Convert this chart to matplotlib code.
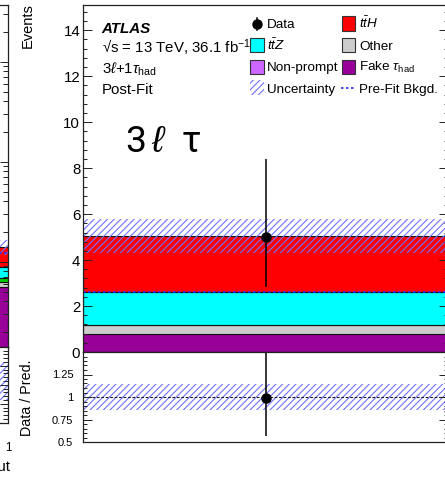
import matplotlib
matplotlib.use('Agg')
import matplotlib.pyplot as plt
from matplotlib.patches import Rectangle
from matplotlib.lines import Line2D
from matplotlib.ticker import MultipleLocator, LogLocator, NullFormatter, FixedLocator

plt.rcParams['font.family'] = ['Liberation Sans', 'DejaVu Sans']
plt.rcParams['mathtext.fontset'] = 'custom'
plt.rcParams['mathtext.rm'] = 'Liberation Sans'
plt.rcParams['mathtext.it'] = 'Liberation Sans:italic'
plt.rcParams['mathtext.bf'] = 'Liberation Sans:bold'
plt.rcParams['mathtext.fallback'] = 'stixsans'
plt.rcParams['hatch.linewidth'] = 0.8

# ---------------- data (main panel: 3l + 1tau_had, single bin) ----------------
bin_edges = [0.0, 1.0]
stack_names = ['Fake $\\tau_{\\mathrm{had}}$', 'Non-prompt', 'Other', '$t\\bar{t}Z$', '$t\\bar{t}H$']
stack_values = [0.78, 0.0, 0.41, 1.42, 2.43]
stack_colors = ['#990099', '#cc66ff', '#cccccc', '#00ffff', '#ff0000']
data_values = [5.0]
data_err_low = [2.16]
data_err_high = [3.38]
total_unc = [0.73]
prefit_bkg = [2.60]

# ---------------- data (partially visible neighbouring panel, last bin) -------
left_bin = [0.8, 1.0]
left_stack_values = [0.562, 0.069, 0.056, 0.204, 0.522]
left_stack_colors = ['#990099', '#cccccc', '#00cc00', '#00ffff', '#ff0000']
left_unc = [0.235]
left_prefit = [1.23]
left_ratio_band = [0.80, 1.30]

W, H = 445, 483
UNC_COLOR = '#7070ff'


def fx(x):
    return x / W


def fy(y):
    return 1 - y / H


fig = plt.figure(figsize=(W / 100, H / 100), dpi=100)

# main axes
axm = fig.add_axes([fx(83), fy(352), (448 - 83) / W, (352 - 5) / H])
axr = fig.add_axes([fx(83), fy(442), (448 - 83) / W, (442 - 352) / H])
# neighbouring panel (cut off at the left)
axlu = fig.add_axes([fx(-200), fy(346.7), 208 / W, (346.7 - 5) / H])
axlr = fig.add_axes([fx(-200), fy(422.7), 208 / W, (422.7 - 346.7) / H])

for ax in (axm, axr, axlu, axlr):
    for s in ax.spines.values():
        s.set_linewidth(0.9)
        s.set_color('#222222')

# ---- main upper panel ----
width = bin_edges[1] - bin_edges[0]
bottom = 0.0
for v, c in zip(stack_values, stack_colors):
    if v > 0:
        axm.bar(bin_edges[0], v, width=width, bottom=bottom, align='edge',
                color=c, edgecolor='#111111', linewidth=0.8)
    bottom += v
total = bottom
axm.bar(bin_edges[0], 2 * total_unc[0], width=width, bottom=total - total_unc[0],
        align='edge', fill=False, hatch='/////', edgecolor=UNC_COLOR, linewidth=0)
axm.hlines(prefit_bkg[0], bin_edges[0], bin_edges[1], colors='#2a2aff',
           linestyles=(0, (1.5, 1.5)), linewidth=1.2)
xc = 0.5 * (bin_edges[0] + bin_edges[1])
axm.errorbar([xc], data_values, yerr=[data_err_low, data_err_high], fmt='o',
             color='black', ms=6.5, elinewidth=1.1, capsize=0)
axm.set_xlim(bin_edges[0], bin_edges[1])
axm.set_ylim(0, 15.1)
axm.yaxis.set_major_locator(MultipleLocator(2))
axm.yaxis.set_minor_locator(MultipleLocator(0.4))
axm.tick_params(axis='y', which='both', direction='in', left=True, right=True,
                labelsize=10.8, pad=2, width=0.7, color='#222222')
axm.tick_params(axis='y', which='major', length=6.3)
axm.tick_params(axis='y', which='minor', length=3.2)
axm.tick_params(axis='x', which='both', bottom=False, top=False, labelbottom=False)

# ---- main ratio panel ----
ratio = data_values[0] / total
r_lo = data_err_low[0] / total
r_hi = data_err_high[0] / total
ru = total_unc[0] / total
axr.bar(bin_edges[0], 2 * ru, width=width, bottom=1 - ru, align='edge', fill=False,
        hatch='/////', edgecolor=UNC_COLOR, linewidth=0)
axr.axhline(1.0, color='#222222', linestyle=(0, (2.5, 1.5)), linewidth=0.8)
axr.errorbar([xc], [ratio], yerr=[[r_lo], [r_hi]], fmt='o', color='black', ms=6.5,
             elinewidth=1.1, capsize=0)
axr.set_xlim(bin_edges[0], bin_edges[1])
axr.set_ylim(0.5, 1.5)
axr.yaxis.set_major_locator(FixedLocator([0.5, 0.75, 1.0, 1.25]))
axr.set_yticklabels(['0.5', '0.75', '1', '1.25'])
axr.yaxis.set_minor_locator(MultipleLocator(0.05))
axr.tick_params(axis='y', which='both', direction='in', left=True, right=True,
                labelsize=8, pad=7, width=0.7, color='#222222')
axr.tick_params(axis='y', which='major', length=6.3)
axr.tick_params(axis='y', which='minor', length=3.2)
axr.tick_params(axis='x', which='both', bottom=False, top=False, labelbottom=False)

# ---- neighbouring panel (log) ----
lw_ = left_bin[1] - left_bin[0]
lb = 0.0
for v, c in zip(left_stack_values, left_stack_colors):
    axlu.bar(left_bin[0], v, width=lw_, bottom=lb if lb > 0 else 1e-3, align='edge',
             color=c, edgecolor='#111111', linewidth=0.8)
    lb += v
axlu.bar(left_bin[0], 2 * left_unc[0], width=lw_, bottom=lb - left_unc[0], align='edge',
         fill=False, hatch='/////', edgecolor=UNC_COLOR, linewidth=0)
axlu.hlines(left_prefit[0], left_bin[0], left_bin[1], colors='#2a2aff',
            linestyles=(0, (1.5, 1.5)), linewidth=1.2)
axlu.set_yscale('log')
axlu.set_ylim(0.141, 369)
axlu.set_xlim(0, 1)
axlu.yaxis.set_major_locator(LogLocator(base=10))
axlu.yaxis.set_minor_locator(LogLocator(base=10, subs=range(2, 10)))
axlu.yaxis.set_minor_formatter(NullFormatter())
axlu.tick_params(axis='y', which='both', direction='in', left=False, right=True,
                 labelleft=False, labelright=False, width=0.7, color='#222222')
axlu.tick_params(axis='y', which='major', length=6)
axlu.tick_params(axis='y', which='minor', length=3.6)
axlu.tick_params(axis='x', which='both', bottom=False, top=False, labelbottom=False)

axlr.bar(left_bin[0], left_ratio_band[1] - left_ratio_band[0], width=lw_,
         bottom=left_ratio_band[0], align='edge', fill=False, hatch='/////',
         edgecolor=UNC_COLOR, linewidth=0)
axlr.set_xlim(0, 1)
axlr.set_ylim(0.5, 1.5)
axlr.yaxis.set_major_locator(MultipleLocator(0.25))
axlr.yaxis.set_minor_locator(MultipleLocator(0.05))
axlr.tick_params(axis='y', which='both', direction='in', left=False, right=True,
                 labelleft=False, labelright=False, width=0.7, color='#222222')
axlr.tick_params(axis='y', which='major', length=6)
axlr.tick_params(axis='y', which='minor', length=3.6)
axlr.set_xticks([1.0])
axlr.set_xticklabels(['1'])
axlr.tick_params(axis='x', which='both', length=0, pad=13.7, labelsize=8.4)
fig.text(fx(10.5), fy(471.5), 'BDT output', ha='right', va='baseline', fontsize=10.8)

# ---- axis titles ----
fig.text(fx(27.5), fy(3.5), 'Events', rotation=90, ha='center', va='top', fontsize=10.5)
fig.text(fx(27.5), fy(398), 'Data / Pred.', rotation=90, ha='center', va='center',
         fontsize=10.3)

# ---- labels ----
fig.text(fx(101.7), fy(33.3), 'ATLAS', fontsize=10.9, fontweight='bold',
         fontstyle='italic', va='baseline')
fig.text(fx(101.7), fy(53.3), '√s = 13 TeV, 36.1 fb$^{\\mathregular{-1}}$',
         fontsize=10.8, va='baseline')
fig.text(fx(101.7), fy(74), '3$\\ell$+1$\\tau_{\\mathrm{had}}$', fontsize=10.8,
         va='baseline')
fig.text(fx(101.7), fy(94), 'Post-Fit', fontsize=10.8, va='baseline')
fig.text(fx(125), fy(151.7), '3$\\,\\ell\\;$ τ', fontsize=26.8, va='baseline',
         family=['Roboto', 'DejaVu Sans'])

# ---- legend (manual, two columns) ----
row_c = [23.5, 45.3, 66.7, 87.5]
row_b = [28.3, 49.7, 71.0, 92.5]
c1_box, c1_txt = 250.0, 266.7
c2_box, c2_txt = 341.7, 359.0
bw, bh = 13.7, 14.0
LFS = 9.7


def box(x, yc, color, hatch=None):
    if hatch:
        r = Rectangle((fx(x), fy(yc + bh / 2)), bw / W, bh / H, transform=fig.transFigure,
                      fill=False, hatch=hatch, edgecolor=UNC_COLOR, linewidth=0)
    else:
        r = Rectangle((fx(x), fy(yc + bh / 2)), bw / W, bh / H, transform=fig.transFigure,
                      facecolor=color, edgecolor='#333333', linewidth=0.8)
    fig.add_artist(r)


# Data
fig.add_artist(Line2D([fx(256.8), fx(256.8)], [fy(17.5), fy(30)], color='black',
                      linewidth=1.1, transform=fig.transFigure))
fig.add_artist(Line2D([fx(256.8)], [fy(23.5)], marker='o', ms=6.5, color='black',
                      transform=fig.transFigure))
fig.text(fx(c1_txt), fy(row_b[0]), 'Data', fontsize=LFS, va='baseline')
box(c2_box, row_c[0], stack_colors[4])
fig.text(fx(c2_txt), fy(row_b[0]), stack_names[4], fontsize=LFS, va='baseline')
box(c1_box, row_c[1], stack_colors[3])
fig.text(fx(c1_txt), fy(row_b[1]), stack_names[3], fontsize=LFS, va='baseline')
box(c2_box, row_c[1], stack_colors[2])
fig.text(fx(c2_txt), fy(row_b[1]), stack_names[2], fontsize=LFS, va='baseline')
box(c1_box, row_c[2], stack_colors[1])
fig.text(fx(c1_txt), fy(row_b[2]), stack_names[1], fontsize=LFS, va='baseline')
box(c2_box, row_c[2], stack_colors[0])
fig.text(fx(c2_txt), fy(row_b[2]), stack_names[0], fontsize=LFS, va='baseline')
box(c1_box, row_c[3], None, hatch='/////')
fig.text(fx(c1_txt), fy(row_b[3]), 'Uncertainty', fontsize=LFS, va='baseline')
fig.add_artist(Line2D([fx(340.7), fx(355.7)], [fy(row_c[3]), fy(row_c[3])], color='#2a2aff',
                      linewidth=1.2, linestyle=(0, (1.5, 1.5)), transform=fig.transFigure))
fig.text(fx(c2_txt), fy(row_b[3]), 'Pre-Fit Bkgd.', fontsize=LFS, va='baseline')

fig.savefig('out.png', dpi=100)
